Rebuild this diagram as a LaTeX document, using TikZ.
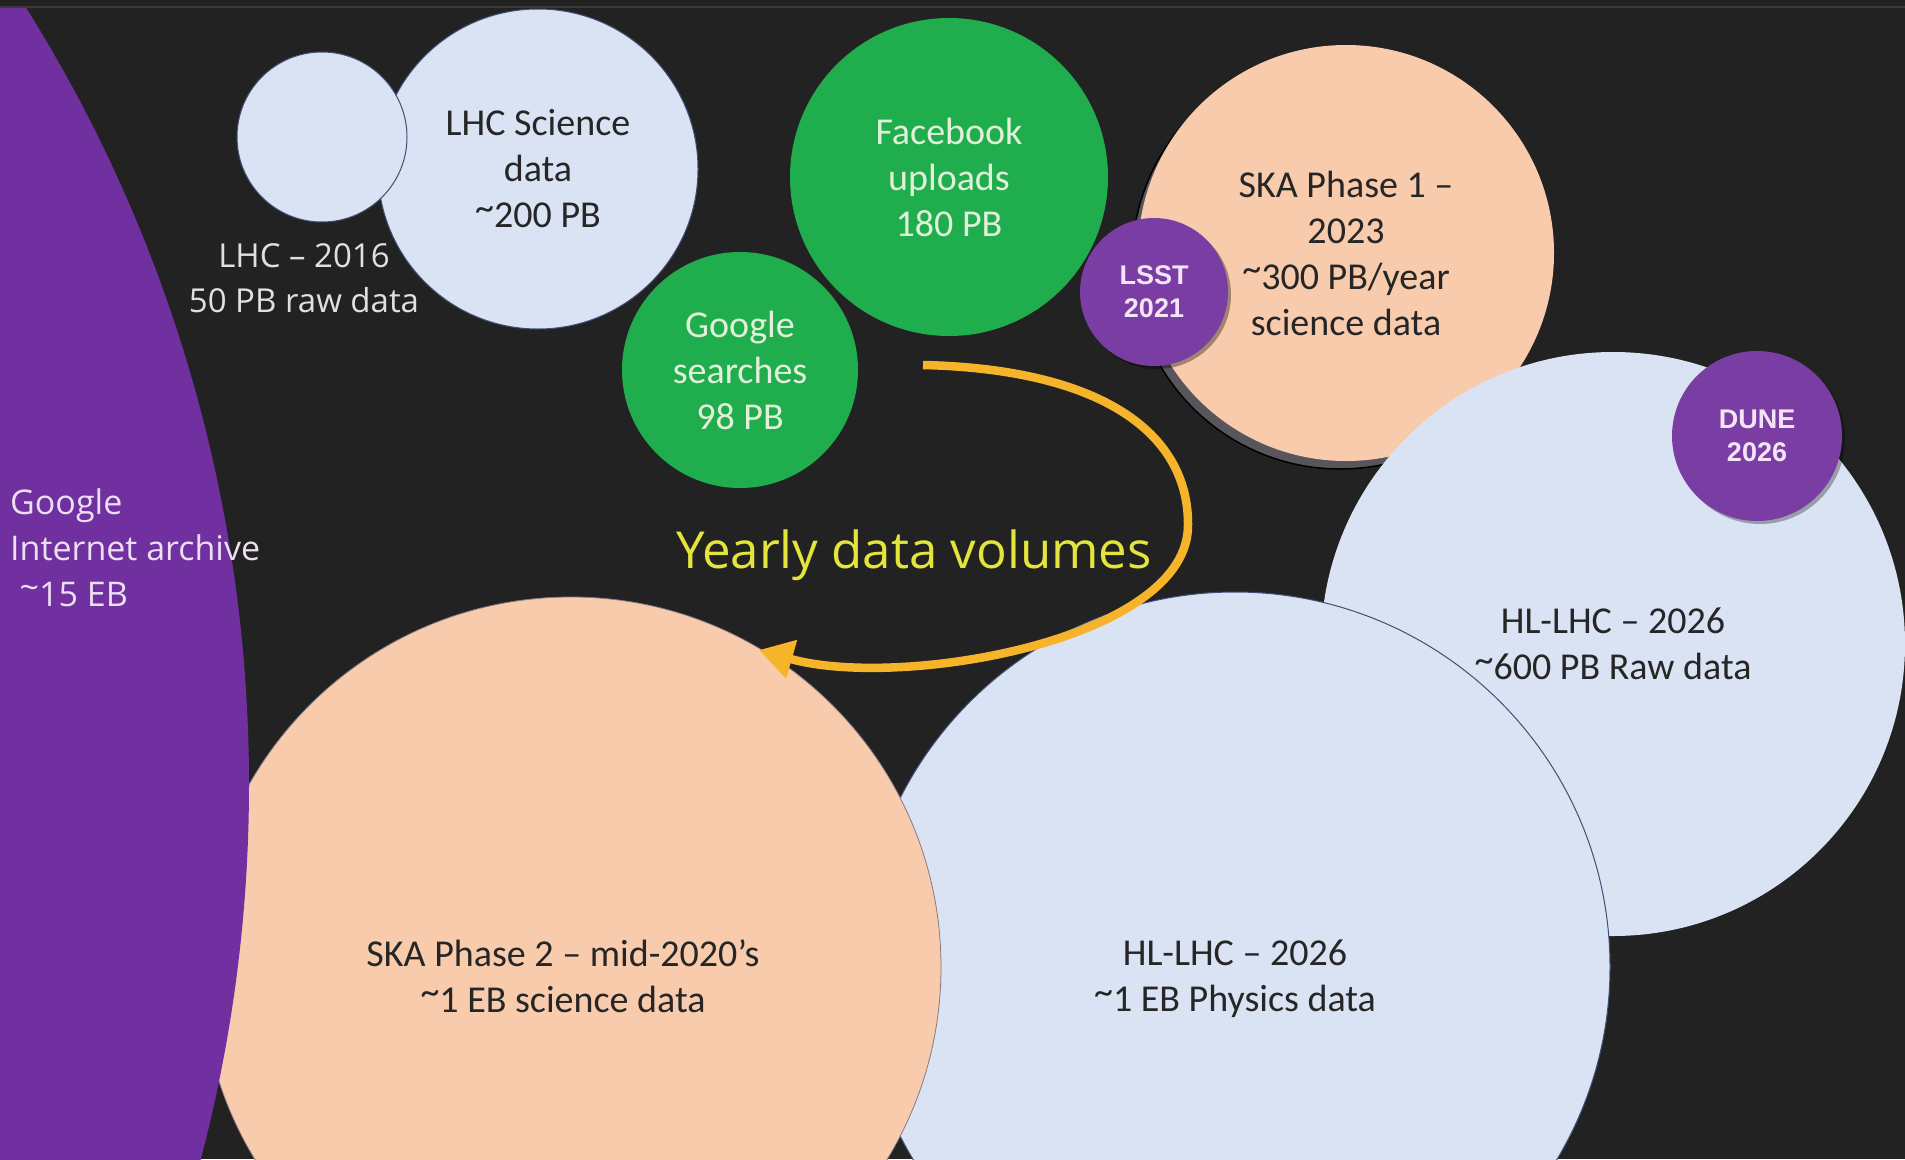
\documentclass[tikz,border=0pt]{standalone}
\usepackage{fontspec}
\setmainfont{Carlito}
\newfontfamily\osans{Open Sans}
\newfontfamily\arialf{Liberation Sans}
\usetikzlibrary{arrows.meta,shadows}
\newcommand\tld{\raisebox{0.2em}{\textasciitilde}}
\definecolor{bgc}{HTML}{222222}
\definecolor{topline}{HTML}{3A3A3A}
\definecolor{lblue}{HTML}{DAE3F3}
\definecolor{lblueline}{HTML}{3F4F75}
\definecolor{peach}{HTML}{F8CBAD}
\definecolor{peachline}{HTML}{857A85}
\definecolor{grn}{HTML}{20AD4E}
\definecolor{grntext}{HTML}{E2F0D9}
\definecolor{purp}{HTML}{7030A0}
\definecolor{purpsm}{HTML}{7A3DA3}
\definecolor{purptext}{HTML}{F3E4F7}
\definecolor{archtext}{HTML}{ECDFF2}
\definecolor{darktext}{HTML}{262626}
\definecolor{arrowc}{HTML}{F5B42A}
\definecolor{yeltext}{HTML}{E3E43C}
\definecolor{shadowg}{HTML}{58565C}
\tikzset{
  bubble/.style={circle, inner sep=0pt, outer sep=0pt, align=center,
    font=\fontsize{38}{46}\selectfont},
  bluebub/.style={bubble, fill=lblue, draw=lblueline, line width=1pt, text=darktext},
  peachbub/.style={bubble, fill=peach, draw=peachline, line width=0.8pt, text=darktext},
  greenbub/.style={bubble, fill=grn, text=grntext},
  smallpurp/.style={circle, inner sep=0pt, align=center, fill=purpsm, text=purptext,
    font=\arialf\bfseries\fontsize{27}{33}\selectfont},
  bubtext/.style={align=center, inner sep=0pt, text=darktext,
    font=\fontsize{38}{46}\selectfont},
  lighttext/.style={align=center, inner sep=0pt, text=archtext,
    font=\osans\fontsize{33}{45}\selectfont}
}
\begin{document}
\begin{tikzpicture}[x=1pt,y=-1pt]
\useasboundingbox (0,0) rectangle (1905,1159);
\fill[bgc] (0,0) rectangle (1905,1159);
\draw[topline, line width=2pt] (0,7) -- (1905,7);
\begin{scope}
\clip (0,8) rectangle (1905,1159);
% SKA phase 1 with its shadow
\node[peachbub, draw=none, minimum size=416pt,
  drop shadow={shadow xshift=-6pt, shadow yshift=-8pt, fill=shadowg, draw=black, line width=1.5pt, opacity=1}]
  (ska1) at (1346,253) {SKA Phase 1 \textendash\\2023\\\tld 300 PB/year\\science data};
% LSST
\node[smallpurp, minimum size=148pt,
  drop shadow={shadow xshift=3pt, shadow yshift=-3pt, fill=black, opacity=0.35}]
  (lsst) at (1154,292) {LSST\\2021};
% green bubbles
\node[greenbub, minimum size=318pt] (fb) at (949,177) {Facebook\\uploads\\180 PB};
\node[greenbub, minimum size=236pt] (gs) at (740,370) {Google\\searches\\98 PB};
% LHC
\node[bluebub, minimum size=320pt] (lhcsci) at (538,169) {LHC Science\\data\\\tld 200 PB};
\node[bluebub, minimum size=170pt] (lhc16) at (322,137) {};
% HL-LHC raw and DUNE
\node[bluebub, draw=none, minimum size=584pt] (hlraw) at (1613,644) {HL-LHC \textendash\ 2026\\\tld 600 PB Raw data};
\node[smallpurp, minimum size=170pt,
  drop shadow={shadow xshift=3pt, shadow yshift=-3pt, fill=black, opacity=0.3}]
  (dune) at (1757,436) {DUNE\\2026};
% HL-LHC physics
\node[bluebub, minimum size=750pt] (hlphys) at (1235,967) {};
\node[bubtext] (hlphystxt) at ([yshift=-12pt]hlphys.center) {HL-LHC \textendash\ 2026\\\tld 1 EB Physics data};
% SKA phase 2
\node[peachbub, minimum size=740pt] (ska2) at (571,967) {};
\node[bubtext] (ska2txt) at ([xshift=-8pt,yshift=-9pt]ska2.center) {SKA Phase 2 \textendash\ mid-2020’s\\\tld 1 EB science data};
% Google internet archive
\node[circle, fill=purp, inner sep=0pt, minimum size=2930pt] (archive) at (-1216,785) {};
\end{scope}
% labels outside bubbles
\node[lighttext, text=white!88!black] (lhc16lbl) at (304,278) {LHC \textendash\ 2016\\50 PB raw data};
\node[lighttext, align=left, anchor=north west, font=\osans\fontsize{34}{46}\selectfont]
  (archlbl) at (10,488) {Google\\Internet archive\\\hspace{0.28em}\tld 15 EB};
% arrow
\coordinate (arrS) at (923,365);
\coordinate (arrM) at (1188,524);
\coordinate (arrE) at (759,650);
\draw[arrowc, line width=8.5pt, -{Triangle[length=34pt,width=38pt]}]
  (arrS) .. controls (1100,369) and (1188,432) .. (arrM)
  .. controls (1190,640) and (900,690) .. (arrE);
\node[text=yeltext, font=\osans\fontsize{51}{60}\selectfont, inner sep=0pt] (yearly) at (914,555) {Yearly data volumes};
\end{tikzpicture}
\end{document}
